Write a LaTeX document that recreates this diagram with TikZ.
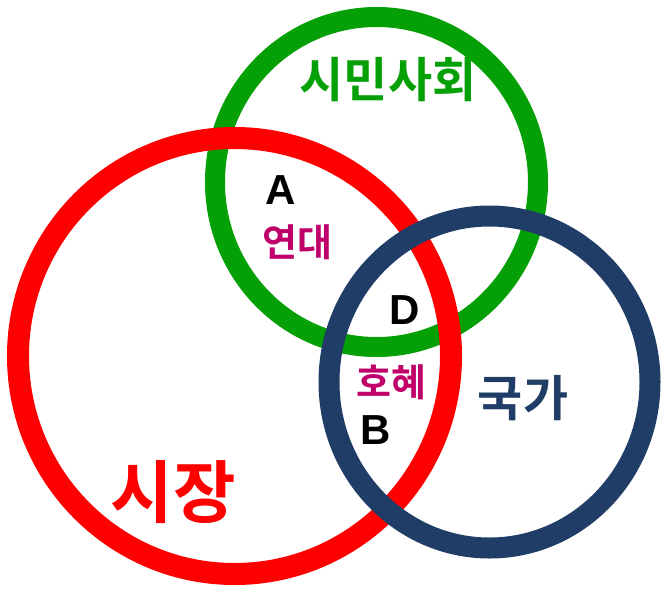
\documentclass[tikz,border=0pt]{standalone}
\usepackage{fontspec}
\newfontfamily\kr{Noto Sans CJK KR}[BoldFont={* Bold}]
\newfontfamily\lat{Liberation Sans}
\definecolor{cred}{RGB}{255,0,0}
\definecolor{cgreen}{RGB}{5,160,5}
\definecolor{cnavy}{RGB}{31,61,102}
\definecolor{cmag}{RGB}{192,0,106}
\tikzset{
  ring/.style={line width=#1},
  lbl/.style={inner sep=0pt, anchor=center},
  letter/.style={lbl, font=\lat\bfseries\fontsize{42}{44}\selectfont, text=black},
}
\begin{document}
\begin{tikzpicture}[x=1pt,y=-1pt]
\useasboundingbox (0,0) rectangle (661,603);
\draw[ring=20pt, cgreen] (376.5,182) ellipse [x radius=161.5, y radius=165];
\draw[ring=22pt, cred] (234.5,356) ellipse [x radius=216.5, y radius=218];
\draw[ring=21pt, cnavy] (489.5,382) ellipse [x radius=160.5, y radius=166];
\node[lbl, text=cgreen, font=\kr\bfseries\fontsize{48}{50}\selectfont] (civil) at (388,80) {시민사회};
\node[lbl, text=cred, font=\kr\bfseries\fontsize{68}{70}\selectfont] (market) at (173,492) {시장};
\node[lbl, text=cnavy, font=\kr\bfseries\fontsize{49}{52}\selectfont] (state) at (523,398) {국가};
\node[lbl, text=cmag, font=\kr\bfseries\fontsize{38}{40}\selectfont] (solid) at (297,242) {연대};
\node[lbl, text=cmag, font=\kr\bfseries\fontsize{38}{40}\selectfont] (recip) at (391,382) {호혜};
\node[letter] (A) at (281,190) {A};
\node[letter] (D) at (405,310) {D};
\node[letter] (B) at (376,430) {B};
\end{tikzpicture}
\end{document}
